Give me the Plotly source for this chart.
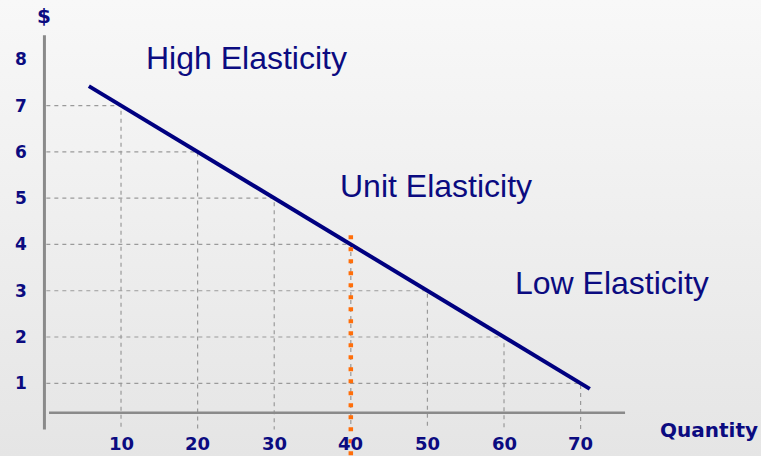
import base64
import plotly.graph_objects as go

# ---- data ----
quantities = [10, 20, 30, 40, 50, 60, 70]
prices = [7, 6, 5, 4, 3, 2, 1]
y_ticks = [1, 2, 3, 4, 5, 6, 7, 8]
x_ticks = [10, 20, 30, 40, 50, 60, 70]
demand_q = [5.8, 71.2]
demand_p = [7.42, 0.88]
unit_q = 40
unit_p_top = 4.2
unit_p_bottom = -0.7
labels = ["High Elasticity", "Unit Elasticity", "Low Elasticity"]
label_q = [26.4, 51.1, 74.1]
label_p = [8.03, 5.27, 3.17]

NAVY = "#0b0b80"
GRAY = "#8a8a8a"

fig = go.Figure()

# dashed guide lines (L-shapes from the price axis to the curve and down to quantity axis)
gx, gy = [], []
for q, p in zip(quantities, prices):
    gx += [0.25, q, q, None]
    gy += [p, p, 0, None]
fig.add_trace(go.Scatter(x=gx, y=gy, mode="lines",
                         line=dict(color="#9a9a9a", width=1.2, dash="4px,4px"),
                         hoverinfo="skip", showlegend=False))

# axes lines
fig.add_trace(go.Scatter(x=[0, 0], y=[0, 8.52], mode="lines",
                         line=dict(color=GRAY, width=3), hoverinfo="skip", showlegend=False))
fig.add_trace(go.Scatter(x=[0.6, 75.8], y=[0.365, 0.365], mode="lines",
                         line=dict(color=GRAY, width=2.5), hoverinfo="skip", showlegend=False))

# demand curve
fig.add_trace(go.Scatter(x=demand_q, y=demand_p, mode="lines",
                         line=dict(color="#000080", width=4), showlegend=False))

# unit elasticity dotted line
fig.add_trace(go.Scatter(x=[unit_q, unit_q], y=[unit_p_top, unit_p_bottom], mode="lines",
                         line=dict(color="#FF6E0A", width=4.5, dash="4px,8px"),
                         hoverinfo="skip", showlegend=False))

annotations = []
for t, q, p in zip(labels, label_q, label_p):
    annotations.append(dict(x=q, y=p, text=t, showarrow=False, xanchor="center", yanchor="middle",
                            font=dict(family="Liberation Sans, Arial", size=32, color=NAVY)))
for v in y_ticks:
    annotations.append(dict(x=-3.05, y=v, text=str(v), showarrow=False, xanchor="center",
                            yanchor="middle",
                            font=dict(family="DejaVu Sans", size=17, color=NAVY, weight="bold")))
for v in x_ticks:
    annotations.append(dict(x=v, y=-0.31, text=str(v), showarrow=False, xanchor="center",
                            yanchor="middle",
                            font=dict(family="DejaVu Sans", size=18, color=NAVY, weight="bold")))
annotations.append(dict(x=0, y=8.93, text="$", showarrow=False, xanchor="center", yanchor="middle",
                        font=dict(family="DejaVu Sans", size=20, color=NAVY, weight="bold")))
annotations.append(dict(x=86.8, y=-0.01, text="Quantity", showarrow=False, xanchor="center",
                        yanchor="middle",
                        font=dict(family="DejaVu Sans", size=20, color=NAVY, weight="bold")))

svg = ('<svg xmlns="http://www.w3.org/2000/svg" width="761" height="456" preserveAspectRatio="none">'
       '<defs><linearGradient id="g" x1="0" y1="0" x2="0" y2="1">'
       '<stop offset="0" stop-color="#f8f8f8"/><stop offset="1" stop-color="#e5e5e5"/>'
       '</linearGradient></defs><rect width="761" height="456" fill="url(#g)"/></svg>')
bg = "data:image/svg+xml;base64," + base64.b64encode(svg.encode()).decode()

fig.update_layout(
    width=761, height=456,
    margin=dict(l=0, r=0, t=0, b=0),
    paper_bgcolor="#eeeeee", plot_bgcolor="rgba(0,0,0,0)",
    xaxis=dict(range=[-5.8, 93.55], visible=False, fixedrange=True),
    yaxis=dict(range=[-0.57, 9.28], visible=False, fixedrange=True),
    annotations=annotations,
    images=[dict(source=bg, xref="paper", yref="paper", x=0, y=1, sizex=1, sizey=1,
                 xanchor="left", yanchor="top", sizing="stretch", layer="below")],
    showlegend=False,
)

fig.write_html("out.html", config={"displayModeBar": False},
               post_script="document.body.style.margin='0';document.body.style.overflow='hidden';")
